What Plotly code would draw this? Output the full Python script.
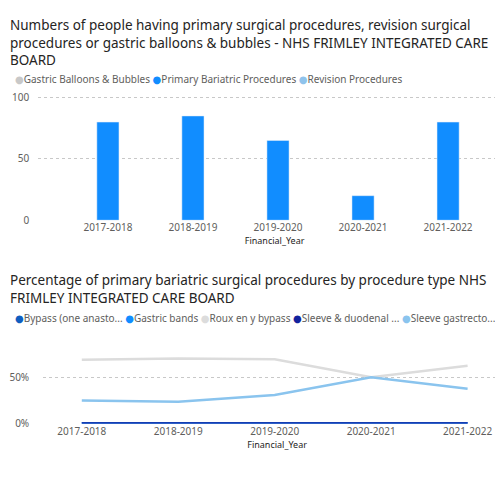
"""Two Power BI style panels: procedure counts (bars) and procedure type share (lines)."""

import plotly.graph_objects as go

YEARS = ["2017-2018", "2018-2019", "2019-2020", "2020-2021", "2021-2022"]

# top panel: number of people
BALLOONS = [None, None, None, None, None]
PRIMARY = [80, 85, 65, 20, 80]
REVISION = [None, None, None, None, None]

# bottom panel: share of primary procedures by type
BYPASS_ONE = [0, 0, 0, 0, 0]
GASTRIC_BANDS = [0, 0, 0, 0, 0]
ROUX = [0.69, 0.705, 0.695, 0.50, 0.625]
SLEEVE_DUODENAL = [0, 0, 0, 0, 0]
SLEEVE_GASTRECTOMY = [0.25, 0.235, 0.308, 0.50, 0.377]

H = 477
FONT = "Noto Sans, DejaVu Sans, sans-serif"
GREY = "#605E5C"

BAR_SERIES = [
    ("Gastric Balloons & Bubbles", BALLOONS, "#C8C8C8"),
    ("Primary Bariatric Procedures", PRIMARY, "#118DFF"),
    ("Revision Procedures", REVISION, "#8FC3EC"),
]
LINE_SERIES = [
    ("Bypass (one anasto...", BYPASS_ONE, "#0F5EC0"),
    ("Gastric bands", GASTRIC_BANDS, "#118DFF"),
    ("Roux en y bypass", ROUX, "#DCDCDC"),
    ("Sleeve & duodenal ...", SLEEVE_DUODENAL, "#12239E"),
    ("Sleeve gastrecto...", SLEEVE_GASTRECTOMY, "#8AC4EE"),
]


def py(px):
    """Pixel row (from top) to paper y."""
    return 1 - px / H


def legend_text(series):
    return " ".join(
        f"<span style='color:{c}'>●</span>{n.replace('&', '&amp;')}" for n, _, c in series
    )


fig = go.Figure()

for name, vals, color in BAR_SERIES:
    fig.add_trace(go.Bar(name=name, x=YEARS, y=vals, marker_color=color,
                         xaxis="x", yaxis="y"))

for name, vals, color in LINE_SERIES:
    fig.add_trace(go.Scatter(
        name=name, x=YEARS, y=vals, mode="lines",
        line=dict(color=color, width=2.5), xaxis="x2", yaxis="y2",
    ))

axis_font = dict(family=FONT, size=10, color=GREY)
title_font = dict(family=FONT, size=9, color="#252423")
fig.update_layout(
    width=503, height=H,
    margin=dict(l=0, r=0, t=0, b=0),
    paper_bgcolor="white", plot_bgcolor="white",
    font=dict(family=FONT, color=GREY),
    barmode="group", bargap=0.22, showlegend=False,
    xaxis=dict(
        domain=[0.06, 1.0], range=[-0.82, 4.74], anchor="y",
        tickfont=axis_font, showgrid=False, showline=False,
        title=dict(text="Financial_Year", font=title_font, standoff=4),
    ),
    yaxis=dict(
        domain=[py(212), py(84)], range=[0, 101.5], tickvals=[0, 50, 100],
        tickfont=axis_font, gridcolor="#C8C8C8", griddash="dot",
        zeroline=False, showline=False, ticklabelstandoff=8,
    ),
    xaxis2=dict(
        domain=[0.07, 1.0], range=[-0.4, 4.45], anchor="y2",
        tickfont=axis_font, showgrid=False, showline=False,
        title=dict(text="Financial_Year", font=title_font, standoff=2),
    ),
    yaxis2=dict(
        domain=[py(421), py(345)], range=[0, 0.8], tickvals=[0, 0.5],
        tickformat=".0%", tickfont=axis_font, gridcolor="#C8C8C8",
        griddash="dot", zeroline=False, showline=False, ticklabelstandoff=8,
    ),
)

fig.add_annotation(
    text="Numbers of people having primary surgical procedures, revision surgical<br>"
         "procedures or gastric balloons &amp; bubbles - NHS FRIMLEY INTEGRATED CARE<br>BOARD",
    xref="paper", yref="paper", x=0.0, y=1.0, xanchor="left", yanchor="top",
    align="left", showarrow=False,
    font=dict(family=FONT, size=13.5, color="#252423"),
)
fig.add_annotation(
    text="Percentage of primary bariatric surgical procedures by procedure type NHS<br>"
         "FRIMLEY INTEGRATED CARE BOARD",
    xref="paper", yref="paper", x=0.0, y=py(262), xanchor="left", yanchor="top",
    align="left", showarrow=False,
    font=dict(family=FONT, size=13.5, color="#252423"),
)
fig.add_annotation(
    text=legend_text(BAR_SERIES), xref="paper", yref="paper",
    x=0.01, y=py(67), xanchor="left", yanchor="middle", showarrow=False,
    font=dict(family=FONT, size=10, color=GREY),
)
fig.add_annotation(
    text=legend_text(LINE_SERIES), xref="paper", yref="paper",
    x=0.01, y=py(313), xanchor="left", yanchor="middle", showarrow=False,
    font=dict(family=FONT, size=10, color=GREY),
)

fig.write_html("out.html")
